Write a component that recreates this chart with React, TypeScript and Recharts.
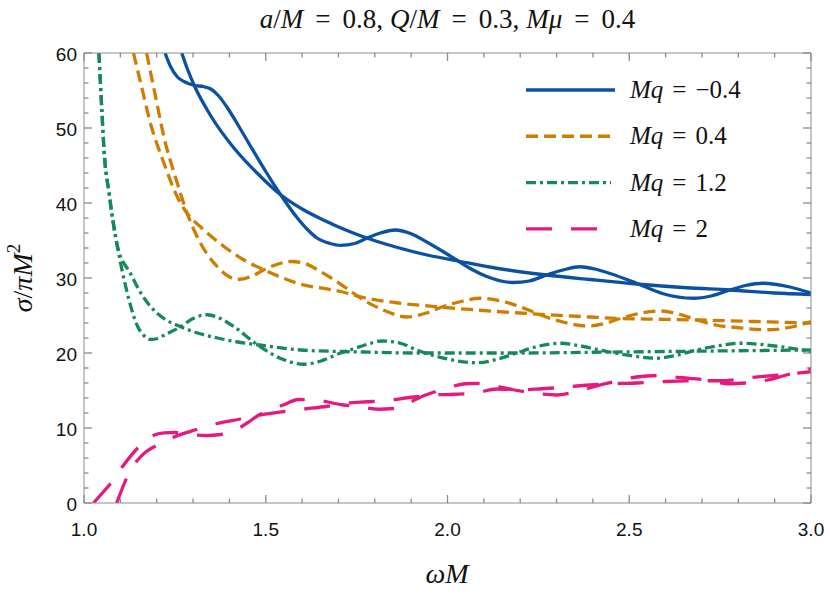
import React from 'react';
import { LineChart, Line, XAxis, YAxis, Legend, ReferenceLine } from 'recharts';

// omega M values and sigma / (pi M^2)
const blueOscX = [1.223, 1.238, 1.257, 1.275, 1.303, 1.33, 1.349, 1.37, 1.393, 1.425, 1.459, 1.5, 1.541, 1.587, 1.614, 1.642, 1.677, 1.705, 1.745, 1.778, 1.815, 1.856, 1.9, 1.943, 1.985, 2.025, 2.065, 2.108, 2.18, 2.225, 2.273, 2.32, 2.364, 2.405, 2.447, 2.52, 2.593, 2.676, 2.725, 2.777, 2.82, 2.868, 2.942, 3.0];
const blueOscY = [60, 58.2, 56.8, 56.2, 55.7, 55.5, 55.2, 54.3, 52.8, 50.3, 47.5, 44.2, 41.1, 38.0, 36.5, 35.3, 34.6, 34.35, 34.6, 35.3, 36.0, 36.4, 35.9, 34.8, 33.6, 32.4, 31.2, 30.2, 29.4, 29.6, 30.4, 31.1, 31.5, 31.2, 30.6, 29.3, 27.9, 27.3, 27.6, 28.4, 29.0, 29.3, 28.8, 28.0];
const blueX = [1.269, 1.285, 1.303, 1.349, 1.413, 1.476, 1.541, 1.6, 1.66, 1.72, 1.78, 1.86, 1.95, 2.025, 2.135, 2.273, 2.392, 2.52, 2.658, 2.777, 2.9, 3.0];
const blueY = [60, 57.8, 55.7, 51.6, 47.3, 44.0, 41.1, 39.2, 37.7, 36.4, 35.3, 34.1, 33.0, 32.3, 31.3, 30.4, 29.8, 29.2, 28.7, 28.4, 28.0, 27.8];

const orangeOscX = [1.172, 1.193, 1.22, 1.257, 1.284, 1.321, 1.367, 1.395, 1.422, 1.46, 1.495, 1.53, 1.569, 1.61, 1.642, 1.677, 1.72, 1.768, 1.83, 1.888, 1.94, 1.988, 2.04, 2.089, 2.15, 2.209, 2.26, 2.319, 2.36, 2.39, 2.43, 2.475, 2.53, 2.585, 2.635, 2.686, 2.74, 2.795, 2.878, 2.94, 3.0];
const orangeOscY = [60, 55.1, 48.8, 42.6, 38.6, 34.6, 31.5, 30.3, 29.8, 30.2, 31.1, 31.8, 32.2, 31.9, 31.1, 30.1, 28.7, 27.1, 25.6, 24.8, 25.3, 26.2, 26.9, 27.3, 26.9, 26.0, 25.0, 24.1, 23.7, 23.6, 23.9, 24.6, 25.3, 25.6, 25.2, 24.4, 23.7, 23.4, 23.1, 23.4, 24.2];
const orangeX = [1.136, 1.156, 1.183, 1.22, 1.257, 1.284, 1.321, 1.385, 1.44, 1.495, 1.587, 1.706, 1.768, 1.86, 1.988, 2.089, 2.209, 2.392, 2.475, 2.585, 2.686, 2.841, 3.0];
const orangeY = [60, 56, 50.6, 45.3, 40.8, 38.6, 36.8, 34.2, 32.4, 31.1, 29.3, 28.2, 27.4, 26.7, 26.1, 25.7, 25.3, 24.8, 24.6, 24.5, 24.4, 24.2, 24.0];

const greenOscX = [1.041, 1.05, 1.055, 1.069, 1.092, 1.119, 1.147, 1.165, 1.183, 1.2, 1.225, 1.266, 1.3, 1.339, 1.375, 1.413, 1.477, 1.55, 1.605, 1.65, 1.706, 1.732, 1.775, 1.819, 1.87, 1.915, 2.0, 2.08, 2.14, 2.19, 2.25, 2.31, 2.37, 2.438, 2.51, 2.575, 2.63, 2.686, 2.75, 2.805, 2.906, 3.0];
const greenOscY = [60, 51.5, 47.1, 41.3, 34.2, 28.0, 23.6, 22.3, 21.8, 21.9, 22.5, 23.5, 24.6, 25.1, 24.6, 23.5, 21.1, 19.1, 18.5, 18.9, 20.0, 20.4, 21.1, 21.6, 21.3, 20.4, 19.2, 18.7, 19.2, 20.0, 20.9, 21.3, 20.9, 20.2, 19.6, 19.3, 19.7, 20.4, 21.0, 21.3, 20.9, 20.2];
const greenX = [1.041, 1.05, 1.055, 1.069, 1.092, 1.128, 1.155, 1.183, 1.22, 1.266, 1.31, 1.367, 1.42, 1.477, 1.596, 1.706, 1.8, 1.9, 2.0, 2.2, 2.4, 2.6, 2.8, 3.0];
const greenY = [60, 51.5, 47.1, 41.3, 34.2, 30.6, 28.1, 26.2, 24.6, 23.5, 22.7, 22.0, 21.5, 21.1, 20.4, 20.2, 20.1, 20.0, 20.0, 20.0, 20.1, 20.2, 20.3, 20.4];

const pinkOscX = [1.026, 1.05, 1.073, 1.105, 1.147, 1.19, 1.22, 1.25, 1.28, 1.31, 1.34, 1.37, 1.4, 1.42, 1.45, 1.48, 1.52, 1.55, 1.59, 1.64, 1.71, 1.76, 1.81, 1.85, 1.88, 1.94, 1.99, 2.05, 2.08, 2.12, 2.18, 2.23, 2.3, 2.35, 2.41, 2.47, 2.52, 2.58, 2.645, 2.71, 2.77, 2.82, 2.88, 2.92, 2.98, 3.0];
const pinkOscY = [0, 1.3, 2.6, 4.8, 7.3, 9.0, 9.35, 9.4, 9.2, 9.05, 9.0, 9.1, 9.4, 9.8, 10.7, 11.7, 12.6, 13.1, 13.8, 13.7, 13.1, 12.8, 12.5, 12.6, 13.1, 14.4, 15.2, 15.9, 15.95, 15.7, 15.1, 14.7, 14.4, 14.8, 15.6, 16.3, 16.8, 17.0, 16.7, 16.4, 15.9, 16.0, 16.4, 16.9, 17.7, 17.9];
const pinkX = [1.09, 1.105, 1.119, 1.147, 1.17, 1.197, 1.248, 1.31, 1.367, 1.43, 1.48, 1.55, 1.6, 1.67, 1.72, 1.78, 1.84, 1.9, 1.96, 2.02, 2.08, 2.135, 2.2, 2.25, 2.31, 2.38, 2.45, 2.52, 2.6, 2.7, 2.76, 2.83, 2.9, 3.0];
const pinkY = [0, 1.9, 3.5, 5.7, 6.8, 7.6, 8.8, 9.8, 10.6, 11.2, 11.7, 12.2, 12.5, 12.9, 13.3, 13.5, 13.7, 14.1, 14.4, 14.5, 14.7, 15.2, 15.1, 15.2, 15.4, 15.7, 15.9, 16.0, 16.2, 16.3, 16.3, 16.7, 17.0, 17.5];

const xTicks = [1.0, 1.1, 1.2, 1.3, 1.4, 1.5, 1.6, 1.7, 1.8, 1.9, 2.0, 2.1, 2.2, 2.3, 2.4, 2.5, 2.6, 2.7, 2.8, 2.9, 3.0];
const xLabels = ['1.0', '1.5', '2.0', '2.5', '3.0'];
const yTicks = [0, 2, 4, 6, 8, 10, 12, 14, 16, 18, 20, 22, 24, 26, 28, 30, 32, 34, 36, 38, 40, 42, 44, 46, 48, 50, 52, 54, 56, 58, 60];
const yLabels = ['0', '10', '20', '30', '40', '50', '60'];

const legendValues = ['\u22120.4', '0.4', '1.2', '2'];
const colors = ['#0a51a1', '#cf7d00', '#16895a', '#e6197f'];
const dashes = ['', '12 6', '10 4 3 4', '26 19'];
const legendLen = [89, 87, 85, 73];

const toPts = (xs: number[], ys: number[]) => xs.map((x, i) => ({ x, y: ys[i] }));

const series = [
  { key: 'bOsc', data: toPts(blueOscX, blueOscY), c: 0 },
  { key: 'b', data: toPts(blueX, blueY), c: 0 },
  { key: 'oOsc', data: toPts(orangeOscX, orangeOscY), c: 1 },
  { key: 'o', data: toPts(orangeX, orangeY), c: 1 },
  { key: 'gOsc', data: toPts(greenOscX, greenOscY), c: 2 },
  { key: 'g', data: toPts(greenX, greenY), c: 2 },
  { key: 'pOsc', data: toPts(pinkOscX, pinkOscY), c: 3 },
  { key: 'p', data: toPts(pinkX, pinkY), c: 3 },
];

const AXIS = '#8c8c8c';
const SERIF = '"Liberation Serif", "DejaVu Serif", serif';
const SANS = '"Liberation Sans", Arial, sans-serif';

// plot box in px, used to turn tick lengths into data units
const PLOT_W = 727;
const PLOT_H = 450;
const xPerPx = 2 / PLOT_W;
const yPerPx = 60 / PLOT_H;

const xMajor = (v: number) => xLabels.includes(Number(v).toFixed(1));
const yMajor = (v: number) => yLabels.includes(String(v));

// inward tick marks on all four sides
const tickSegs: { x1: number; y1: number; x2: number; y2: number }[] = [];
xTicks.forEach((t) => {
  const len = (xMajor(t) ? 8 : 4.5) * yPerPx;
  tickSegs.push({ x1: t, y1: 0, x2: t, y2: len });
  tickSegs.push({ x1: t, y1: 60, x2: t, y2: 60 - len });
});
yTicks.forEach((t) => {
  const len = (yMajor(t) ? 8 : 4.5) * xPerPx;
  tickSegs.push({ x1: 1, y1: t, x2: 1 + len, y2: t });
  tickSegs.push({ x1: 3, y1: t, x2: 3 - len, y2: t });
});

const BottomTick = (props: any) => {
  const v = props.payload.value;
  if (!xMajor(v)) return null;
  return (
    <text x={Number(props.x)} y={Number(props.y) + 33} textAnchor="middle" fontFamily={SANS} fontSize={19} fill="#111">
      {Number(v).toFixed(1)}
    </text>
  );
};

const LeftTick = (props: any) => {
  const v = props.payload.value;
  if (!yMajor(v)) return null;
  return (
    <text x={Number(props.x) - 7} y={Number(props.y) + 8} textAnchor="end" fontFamily={SANS} fontSize={19} fill="#111">
      {v}
    </text>
  );
};

const LegendBox = () => (
  <svg width={280} height={200}>
    {legendValues.map((v, i) => (
      <g key={v} transform={`translate(0, ${20 + i * 46.3})`}>
        <line x1={6} x2={6 + legendLen[i]} y1={0} y2={0} stroke={colors[i]} strokeWidth={3.4}
          strokeDasharray={dashes[i] || undefined} />
        <text x={110} y={8} fontFamily={SERIF} fontSize={25} fill="#111">
          <tspan fontStyle="italic">Mq</tspan>
          <tspan dx={9}>=</tspan>
          <tspan dx={9}>{v}</tspan>
        </text>
      </g>
    ))}
  </svg>
);

export default function App() {
  return (
    <div style={{ position: 'absolute', left: 0, top: 0, width: 830, height: 603, background: '#fff' }}>
      <svg width={830} height={603} style={{ position: 'absolute', left: 0, top: 0 }}>
        <text x={447.5} y={28} textAnchor="middle" fontFamily={SERIF} fontSize={27} fill="#111">
          <tspan fontStyle="italic">a</tspan>/<tspan fontStyle="italic">M</tspan>
          <tspan dx={12}>=</tspan><tspan dx={12}>0.8,</tspan>
          <tspan dx={7} fontStyle="italic">Q</tspan>/<tspan fontStyle="italic">M</tspan>
          <tspan dx={12}>=</tspan><tspan dx={12}>0.3,</tspan>
          <tspan dx={7} fontStyle="italic">M{'\u03bc'}</tspan>
          <tspan dx={12}>=</tspan><tspan dx={12}>0.4</tspan>
        </text>
        <text x={447} y={583} textAnchor="middle" fontFamily={SERIF} fontSize={28} fontStyle="italic" fill="#111">
          {'\u03c9'}M
        </text>
        <text transform="translate(32, 278) rotate(-90)" textAnchor="middle" fontFamily={SERIF} fontSize={28} fill="#111">
          <tspan fontStyle="italic">{'\u03c3'}</tspan>/<tspan fontStyle="italic">{'\u03c0'}M</tspan>
          <tspan fontSize={19} dy={-12}>2</tspan>
        </text>
      </svg>
      <div style={{ position: 'absolute', left: 0, top: 0 }}>
        <LineChart width={830} height={603} margin={{ top: 43, right: 9, bottom: 70, left: 24 }}>
          <XAxis dataKey="x" type="number" domain={[1, 3]} ticks={xTicks} interval={0} allowDataOverflow
            height={30} tickSize={0} tickMargin={0} tickLine={false} tick={<BottomTick />} stroke={AXIS} />
          <XAxis xAxisId="top" orientation="top" dataKey="x" type="number" domain={[1, 3]} ticks={xTicks}
            allowDataOverflow height={10} tickLine={false} tick={false} stroke={AXIS} />
          <YAxis type="number" domain={[0, 60]} ticks={yTicks} interval={0} allowDataOverflow width={60}
            tickSize={0} tickMargin={0} tickLine={false} tick={<LeftTick />} stroke={AXIS} />
          <YAxis yAxisId="right" orientation="right" type="number" domain={[0, 60]} ticks={yTicks}
            allowDataOverflow width={10} tickLine={false} tick={false} stroke={AXIS} />
          {tickSegs.map((s, i) => (
            <ReferenceLine key={`t${i}`} segment={[{ x: s.x1, y: s.y1 }, { x: s.x2, y: s.y2 }]}
              stroke={AXIS} strokeWidth={1.3} ifOverflow="visible" />
          ))}
          <Legend layout="vertical" align="center" verticalAlign="middle" content={<LegendBox />}
            wrapperStyle={{ position: 'absolute', left: 520, top: 70, width: 280, height: 200 }} />
          {series.map((s) => (
            <Line key={s.key} data={s.data} dataKey="y" type="monotone" stroke={colors[s.c]} strokeWidth={3.3}
              strokeDasharray={dashes[s.c] || undefined} dot={false} activeDot={false} isAnimationActive={false} />
          ))}
        </LineChart>
      </div>
    </div>
  );
}
